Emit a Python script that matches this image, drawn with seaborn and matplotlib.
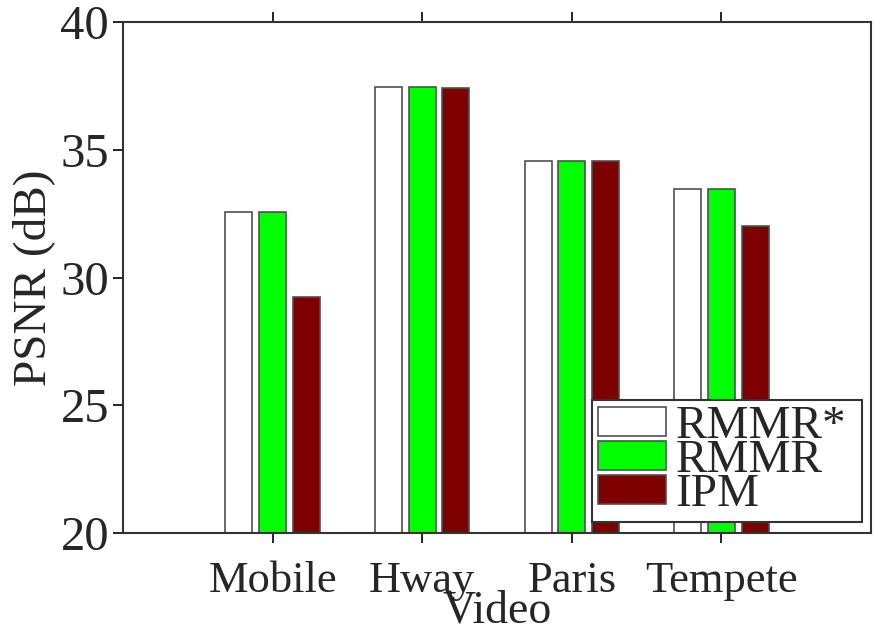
import matplotlib
matplotlib.use("Agg")
import matplotlib.pyplot as plt
import seaborn as sns
import pandas as pd

videos = ["Mobile", "Hway", "Paris", "Tempete"]
methods = ["RMMR*", "RMMR", "IPM"]
rmmr_star = [32.55, 37.47, 34.57, 33.48]
rmmr = [32.55, 37.47, 34.57, 33.48]
ipm = [29.22, 37.42, 34.55, 32.02]
colors = ["#FFFFFF", "#00FF00", "#7F0000"]
yticks = [20, 25, 30, 35, 40]

rows = []
for m, vals in zip(methods, [rmmr_star, rmmr, ipm]):
    for v, val in zip(videos, vals):
        rows.append({"Video": v, "Method": m, "PSNR": val})
df = pd.DataFrame(rows)

sns.set_theme(style="white")
plt.rcParams["font.family"] = ["Liberation Serif", "DejaVu Serif"]

fig = plt.figure(figsize=(8.74, 6.32), dpi=100)
ax = fig.add_axes([0.1407, 0.1566, 0.8559, 0.8086])

sns.barplot(data=df, x="Video", y="PSNR", hue="Method", order=videos,
            hue_order=methods, palette=colors, width=0.675, gap=0.2,
            edgecolor="#505050", linewidth=1.2, saturation=1, ax=ax,
            errorbar=None)

ax.set_xlim(-1, 4)
ax.set_ylim(20, 40)
ax.set_yticks(yticks)
ax.set_yticklabels([str(t) for t in yticks])
ax.set_xlabel("Video", fontsize=33, labelpad=-8)
ax.set_ylabel("PSNR (dB)", fontsize=34, labelpad=4)
ax.tick_params(axis="both", direction="out", length=7,
               width=1.2, color="black")
ax.tick_params(axis="x", top=True, bottom=True, labelsize=32, pad=13)
ax.tick_params(axis="y", left=True, labelsize=35, pad=3)
for s in ax.spines.values():
    s.set_visible(True)
    s.set_color("#333333")
    s.set_linewidth(1.5)

handles, labels = ax.get_legend_handles_labels()
leg = ax.legend(handles, labels, loc="lower left",
                bbox_to_anchor=(0.627, 0.0215, 0.361, 0.2), mode="expand",
                fontsize=34, frameon=True, fancybox=False,
                edgecolor="#333333", framealpha=1, handlelength=1.45,
                handleheight=0.55, labelspacing=-0.18, handletextpad=0.2,
                borderpad=0.12, borderaxespad=0)
leg.get_frame().set_linewidth(1.5)

fig.savefig("out.png", dpi=100)
